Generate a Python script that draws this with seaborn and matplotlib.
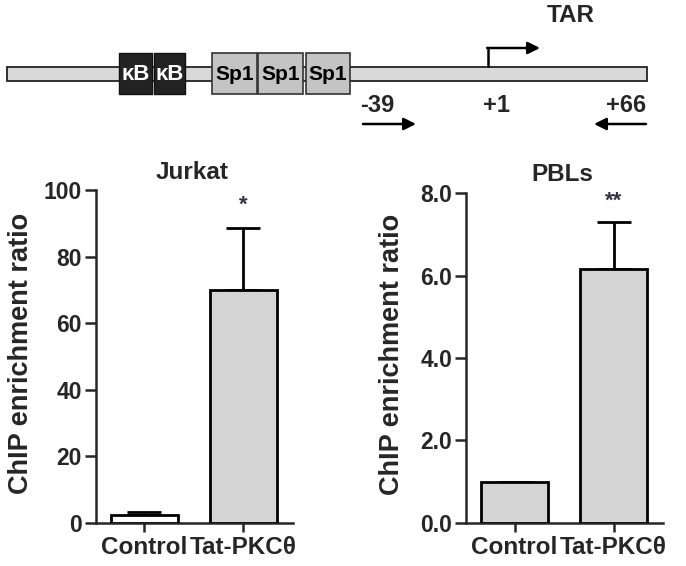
import numpy as np
import pandas as pd
import seaborn as sns
import matplotlib.pyplot as plt
from matplotlib.patches import Rectangle

# data
groups = ["Control", "Tat-PKC\u03b8"]
jurkat_mean = [2.5, 70.0]
jurkat_err = [0.8, 18.5]
pbl_mean = [1.0, 6.15]
pbl_err = [0.0, 1.15]
jurkat_stars = ["", "*"]
pbl_stars = ["", "**"]

# promoter schematic (pixel layout of the cartoon)
kb_boxes = [(119, 152), (154, 185)]
sp1_boxes = [(212, 257), (258, 303), (306, 350)]
site_labels = ["-39", "+1", "+66"]
site_x = [377, 496, 646]

sns.set_style("ticks")
plt.rcParams['font.family'] = ['Liberation Sans', 'DejaVu Sans']
plt.rcParams['font.weight'] = 'bold'

fig = plt.figure(figsize=(6.86, 5.66), dpi=100)

# ---- schematic on a pixel-space background axes
ax0 = fig.add_axes([0, 0, 1, 1])
ax0.set_xlim(0, 686)
ax0.set_ylim(566, 0)
ax0.axis('off')

ax0.add_patch(Rectangle((7, 67), 640, 14, facecolor='#d9d9d9', edgecolor='#222222', lw=1.3))
for x0, x1 in kb_boxes:
    ax0.add_patch(Rectangle((x0, 53), x1 - x0, 41, facecolor='#232323', edgecolor='#111111', lw=1))
    ax0.text((x0 + x1) / 2, 74, "\u03baB", color='white', fontsize=16, ha='center', va='center')
for x0, x1 in sp1_boxes:
    ax0.add_patch(Rectangle((x0, 53), x1 - x0, 41, facecolor='#c4c4c4', edgecolor='#333333', lw=1.2))
    ax0.text((x0 + x1) / 2, 74, "Sp1", color='black', fontsize=15, ha='center', va='center')

# transcription start arrow
ax0.plot([488, 488], [67, 48], color='black', lw=1.8, solid_capstyle='butt')
ax0.annotate('', xy=(540, 48), xytext=(487.1, 48),
             arrowprops=dict(arrowstyle='-|>', lw=1.8, color='black', mutation_scale=18, shrinkA=0, shrinkB=0))
ax0.text(571, 16, "TAR", fontsize=17.5, ha='center', va='center')

for lab, x in zip(site_labels, site_x):
    ha = 'right' if lab == "+66" else 'center'
    ax0.text(x, 105, lab, fontsize=17, ha=ha, va='center')

ax0.annotate('', xy=(416, 124), xytext=(363, 124),
             arrowprops=dict(arrowstyle='-|>', lw=1.8, color='black', mutation_scale=18, shrinkA=0, shrinkB=0))
ax0.annotate('', xy=(594, 124), xytext=(646, 124),
             arrowprops=dict(arrowstyle='-|>', lw=1.8, color='black', mutation_scale=18, shrinkA=0, shrinkB=0))


def bar_panel(ax, means, errs, colors, title, ylim, yticks, ytick_fmt, stars, star_y, title_y, label_x):
    df = pd.DataFrame({"group": groups, "ratio": means})
    sns.barplot(data=df, x="group", y="ratio", hue="group", palette=colors, legend=False,
                edgecolor='black', linewidth=2, width=0.67, ax=ax, zorder=3)
    ax.errorbar(x=np.arange(len(means)), y=means, yerr=[np.zeros(len(means)), errs],
                fmt='none', ecolor='black', elinewidth=2, capsize=12, capthick=2, zorder=2)
    ax.set_xlim(-0.49, 1.5)
    ax.set_ylim(*ylim)
    ax.set_yticks(yticks)
    ax.set_yticklabels([ytick_fmt.format(v) for v in yticks])
    ax.set_xlabel("")
    ax.set_ylabel("ChIP enrichment ratio", fontsize=19.5, fontweight='bold')
    ax.yaxis.set_label_coords(label_x, 0.51)
    ax.text(0.49, title_y, title, transform=ax.transAxes, fontsize=17.5, ha='center', va='center')
    for i, s in enumerate(stars):
        if s:
            ax.text(i, star_y, s, fontsize=16, ha='center', va='center', color='#333344')
    sns.despine(ax=ax)
    for side in ['left', 'bottom']:
        ax.spines[side].set_linewidth(1.8)
    ax.tick_params(axis='y', length=8, width=1.8, labelsize=16.5, pad=2)
    ax.tick_params(axis='x', length=6.5, width=1.8, labelsize=17.5, pad=3)


ax1 = fig.add_axes([0.1399, 0.076, 0.2872, 0.5883])
bar_panel(ax1, jurkat_mean, jurkat_err, ['white', '#d4d4d4'], "Jurkat",
          (0, 100), [0, 20, 40, 60, 80, 100], "{:.0f}", jurkat_stars, 95.5, 1.052, -0.315)

ax2 = fig.add_axes([0.6793, 0.076, 0.2872, 0.583])
bar_panel(ax2, pbl_mean, pbl_err, ['#d4d4d4', '#d4d4d4'], "PBLs",
          (0, 8), [0, 2, 4, 6, 8], "{:.1f}", pbl_stars, 7.8, 1.055, -0.31)

fig.savefig("out.png", dpi=100)
